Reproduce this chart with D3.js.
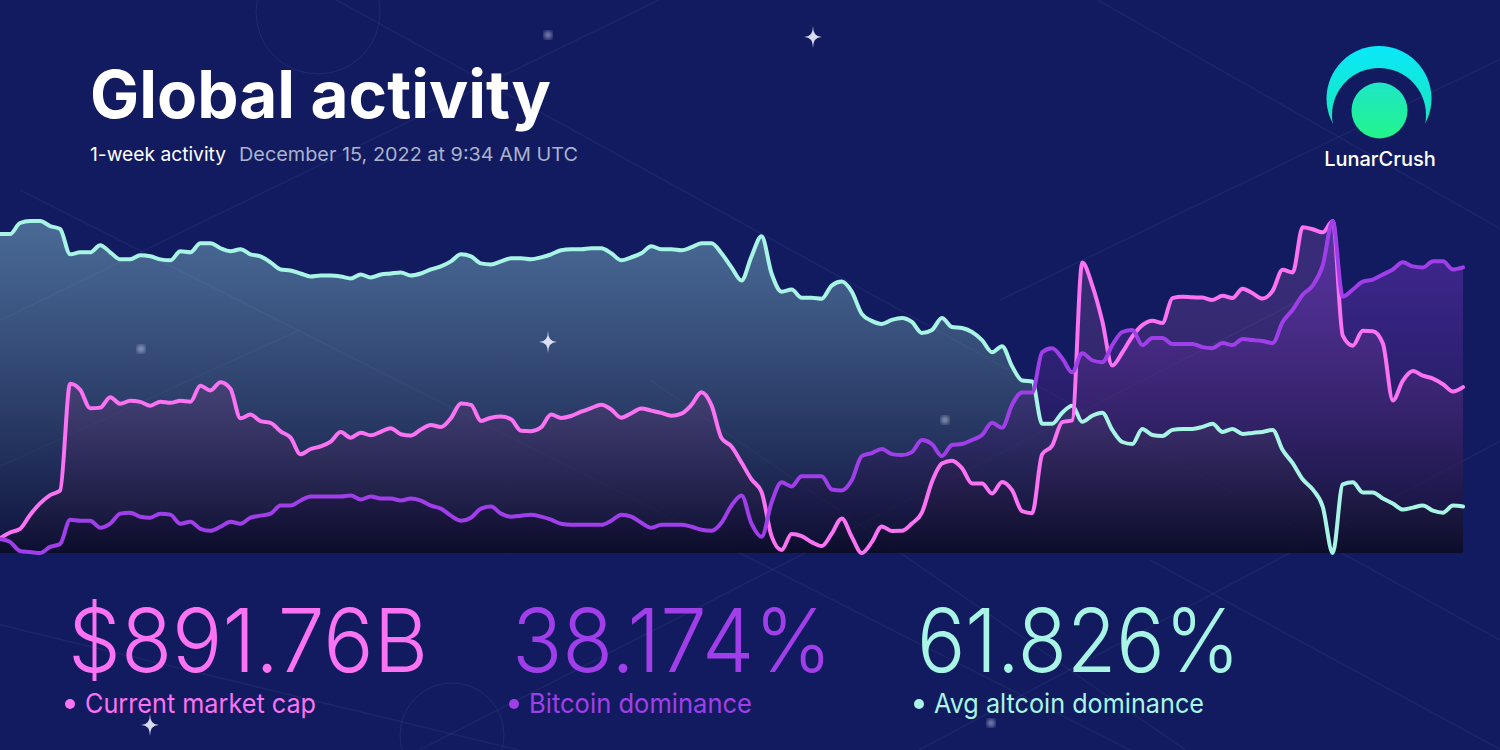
<!DOCTYPE html>
<html>
<head>
<meta charset="utf-8">
<script src="https://cdn.jsdelivr.net/npm/d3@7"></script>
<style>
html, body { margin: 0; padding: 0; background: #121b5f; overflow: hidden; }
svg { display: block; }
</style>
</head>
<body>
<script>
// hourly-ish samples over the week
const marketCap = [
  861.44, 862.60, 863.34, 866.14, 868.44, 870.10, 871.02, 892.44, 891.26, 887.54,
  887.66, 889.76, 888.44, 889.04, 888.82, 888.06, 888.86, 888.64, 889.02, 888.84,
  892.04, 891.10, 892.76, 891.46, 885.52, 886.26, 884.96, 884.62, 882.90, 881.64,
  878.30, 879.36, 879.90, 880.86, 882.76, 881.64, 882.64, 882.10, 882.82, 883.54,
  882.32, 882.06, 883.26, 884.18, 883.78, 885.56, 888.50, 888.20, 885.00, 885.64,
  885.90, 885.34, 883.02, 882.94, 883.72, 886.26, 885.60, 885.98, 886.84, 887.56,
  888.24, 887.28, 885.64, 886.54, 887.50, 887.06, 886.60, 886.04, 886.46, 888.20,
  890.76, 888.16, 881.56, 879.88, 876.64, 873.26, 870.72, 861.88, 859.10, 862.30,
  861.88, 860.68, 859.90, 862.38, 865.44, 861.76, 858.50, 860.68, 863.84, 862.92,
  862.94, 864.40, 866.60, 872.76, 876.44, 877.02, 875.54, 872.44, 872.44, 870.44,
  872.76, 871.10, 866.88, 866.48, 878.30, 880.04, 884.76, 885.10, 916.76, 912.20,
  905.06, 896.10, 898.72, 901.94, 904.20, 905.08, 904.64, 909.64, 909.90, 909.80,
  909.74, 909.24, 910.10, 909.64, 911.50, 910.60, 909.54, 911.10, 915.30, 914.76,
  923.86, 923.44, 922.82, 925.10, 902.10, 900.10, 903.06, 903.00, 900.56, 889.10,
  893.10, 895.02, 894.06, 893.48, 892.36, 890.88, 891.76
];

const btcDominance = [
  37.905, 37.902, 37.893, 37.892, 37.891, 37.897, 37.900, 37.924, 37.923, 37.923,
  37.916, 37.920, 37.930, 37.931, 37.927, 37.926, 37.930, 37.929, 37.920, 37.922,
  37.915, 37.913, 37.917, 37.922, 37.920, 37.926, 37.928, 37.930, 37.938, 37.938,
  37.943, 37.947, 37.947, 37.947, 37.947, 37.948, 37.944, 37.947, 37.945, 37.945,
  37.943, 37.945, 37.943, 37.938, 37.935, 37.928, 37.923, 37.926, 37.935, 37.937,
  37.930, 37.927, 37.928, 37.929, 37.927, 37.924, 37.920, 37.919, 37.919, 37.919,
  37.919, 37.923, 37.929, 37.927, 37.921, 37.916, 37.919, 37.919, 37.919, 37.917,
  37.914, 37.913, 37.921, 37.938, 37.948, 37.920, 37.907, 37.941, 37.961, 37.957,
  37.967, 37.967, 37.967, 37.954, 37.953, 37.963, 37.987, 37.990, 37.994, 37.989,
  37.988, 37.991, 38.003, 37.999, 37.987, 37.998, 37.999, 38.003, 38.008, 38.020,
  38.015, 38.038, 38.050, 38.050, 38.090, 38.094, 38.084, 38.070, 38.089, 38.082,
  38.080, 38.097, 38.110, 38.112, 38.097, 38.104, 38.104, 38.098, 38.098, 38.098,
  38.095, 38.094, 38.099, 38.097, 38.103, 38.102, 38.101, 38.099, 38.120, 38.132,
  38.147, 38.156, 38.176, 38.220, 38.145, 38.152, 38.160, 38.162, 38.167, 38.172,
  38.179, 38.175, 38.174, 38.180, 38.180, 38.172, 38.174
];

const altDominance = [
  62.096, 62.096, 62.107, 62.109, 62.109, 62.104, 62.101, 62.076, 62.078, 62.078,
  62.085, 62.078, 62.071, 62.071, 62.075, 62.074, 62.071, 62.070, 62.079, 62.078,
  62.087, 62.087, 62.082, 62.079, 62.081, 62.076, 62.074, 62.068, 62.061, 62.060,
  62.057, 62.054, 62.055, 62.055, 62.054, 62.052, 62.056, 62.053, 62.056, 62.057,
  62.058, 62.055, 62.057, 62.061, 62.064, 62.069, 62.076, 62.074, 62.067, 62.066,
  62.069, 62.072, 62.072, 62.071, 62.073, 62.076, 62.080, 62.081, 62.081, 62.082,
  62.082, 62.077, 62.070, 62.073, 62.077, 62.084, 62.081, 62.081, 62.080, 62.083,
  62.087, 62.087, 62.077, 62.063, 62.050, 62.074, 62.094, 62.057, 62.039, 62.041,
  62.033, 62.033, 62.032, 62.045, 62.049, 62.039, 62.017, 62.010, 62.007, 62.011,
  62.013, 62.009, 61.998, 62.001, 62.013, 62.004, 62.003, 61.999, 61.991, 61.979,
  61.985, 61.965, 61.951, 61.950, 61.908, 61.908, 61.919, 61.926, 61.910, 61.916,
  61.919, 61.902, 61.890, 61.888, 61.903, 61.897, 61.896, 61.902, 61.903, 61.903,
  61.905, 61.908, 61.900, 61.903, 61.898, 61.899, 61.900, 61.902, 61.882, 61.869,
  61.853, 61.843, 61.826, 61.780, 61.848, 61.850, 61.840, 61.840, 61.834, 61.829,
  61.823, 61.825, 61.827, 61.822, 61.820, 61.827, 61.826
];

const statValues = ["$891.76B", "38.174%", "61.826%"];
const statLabels = ["Current market cap", "Bitcoin dominance", "Avg altcoin dominance"];

var W = 1500, H = 750;
var chartTop = 221, chartBottom = 553;

var svg = d3.select("body").append("svg")
  .attr("width", W)
  .attr("height", H);

var defs = svg.append("defs");

svg.append("rect").attr("width", W).attr("height", H).attr("fill", "#121b5f");

// faint constellation lines in the background
var bgLines = [
  [-40, 340, 700, -20], [20, 190, 1150, 760], [300, -20, 1500, 640],
  [900, 760, 1540, 420], [1000, 300, 1540, 40], [1080, -10, 1520, 240],
  [400, 760, 1300, 300], [-20, 620, 560, 760], [650, 380, 1200, 760],
  [1150, 560, 1520, 760], [-30, 480, 300, 330]
];
svg.append("g").selectAll("line")
  .data(bgLines)
  .enter()
  .append("line")
  .attr("x1", d => d[0]).attr("y1", d => d[1])
  .attr("x2", d => d[2]).attr("y2", d => d[3])
  .attr("stroke", "#8fa8d8")
  .attr("stroke-opacity", 0.08)
  .attr("stroke-width", 1.5);

svg.append("circle").attr("cx", 318).attr("cy", 12).attr("r", 62)
  .attr("fill", "none").attr("stroke", "#8fa8d8").attr("stroke-opacity", 0.1);
svg.append("circle").attr("cx", 452).attr("cy", 735).attr("r", 52)
  .attr("fill", "none").attr("stroke", "#8fa8d8").attr("stroke-opacity", 0.1);

// chart
var x = d3.scaleLinear().domain([0, marketCap.length - 1]).range([0, 1463]);

var series = [
  {name: "alt", values: altDominance, line: "#a8f5e6", top: "#8cc8d8", topOp: 0.46, botOp: 0.55},
  {name: "cap", values: marketCap, line: "#fb72f2", top: "#d070e0", topOp: 0.2, botOp: 0.45},
  {name: "btc", values: btcDominance, line: "#a03fea", top: "#8a3ee0", topOp: 0.4, botOp: 0.45}
];

series.forEach(function(s) {
  s.y = d3.scaleLinear().domain(d3.extent(s.values)).range([chartBottom, chartTop]);
  var g = defs.append("linearGradient")
    .attr("id", "grad-" + s.name)
    .attr("gradientUnits", "userSpaceOnUse")
    .attr("x1", 0).attr("y1", chartTop).attr("x2", 0).attr("y2", chartBottom);
  g.append("stop").attr("offset", "0%").attr("stop-color", s.top).attr("stop-opacity", s.topOp);
  g.append("stop").attr("offset", "100%").attr("stop-color", "#0a0b22").attr("stop-opacity", s.botOp);
});

var chart = svg.append("g");

series.forEach(function(s) {
  var area = d3.area()
    .x((d, i) => x(i))
    .y0(chartBottom)
    .y1(d => s.y(d))
    .curve(d3.curveMonotoneX);
  chart.append("path")
    .datum(s.values)
    .attr("d", area)
    .attr("fill", "url(#grad-" + s.name + ")");
});

series.forEach(function(s) {
  var line = d3.line()
    .x((d, i) => x(i))
    .y(d => s.y(d))
    .curve(d3.curveMonotoneX);
  chart.append("path")
    .datum(s.values)
    .attr("d", line)
    .attr("fill", "none")
    .attr("stroke", s.line)
    .attr("stroke-width", 4)
    .attr("stroke-linejoin", "round")
    .attr("stroke-linecap", "round");
});

// little stars
function sparkle(cx, cy, r) {
  return "M" + cx + "," + (cy - r) + " Q" + cx + "," + cy + " " + (cx + r * 0.8) + "," + cy +
    " Q" + cx + "," + cy + " " + cx + "," + (cy + r) +
    " Q" + cx + "," + cy + " " + (cx - r * 0.8) + "," + cy +
    " Q" + cx + "," + cy + " " + cx + "," + (cy - r) + "Z";
}
var sparkles = [[813, 37, 11], [548, 342, 11], [150, 725, 11]];
svg.append("g").selectAll("path")
  .data(sparkles)
  .enter()
  .append("path")
  .attr("d", d => sparkle(d[0], d[1], d[2]))
  .attr("fill", "#eef0ff")
  .attr("opacity", 0.9);

defs.append("filter").attr("id", "blur").append("feGaussianBlur").attr("stdDeviation", 2);
var glows = [[548, 35], [141, 349], [945, 420], [991, 723]];
svg.append("g").selectAll("circle")
  .data(glows)
  .enter()
  .append("circle")
  .attr("cx", d => d[0]).attr("cy", d => d[1]).attr("r", 4)
  .attr("fill", "#c8cce8").attr("opacity", 0.6)
  .attr("filter", "url(#blur)");

// title
svg.append("text")
  .attr("x", 90).attr("y", 118)
  .attr("font-family", "Inter, 'Liberation Sans', sans-serif")
  .attr("font-weight", 700)
  .attr("font-size", 66)
  .attr("fill", "#ffffff")
  .attr("textLength", 461)
  .attr("lengthAdjust", "spacingAndGlyphs")
  .text("Global activity");

svg.append("text")
  .attr("x", 90).attr("y", 161)
  .attr("font-family", "Inter, 'Liberation Sans', sans-serif")
  .attr("font-size", 19)
  .attr("fill", "#ffffff")
  .attr("textLength", 136)
  .attr("lengthAdjust", "spacingAndGlyphs")
  .text("1-week activity");

svg.append("text")
  .attr("x", 239).attr("y", 161)
  .attr("font-family", "Inter, 'Liberation Sans', sans-serif")
  .attr("font-size", 19)
  .attr("fill", "#aab2cc")
  .attr("textLength", 339)
  .attr("lengthAdjust", "spacingAndGlyphs")
  .text("December 15, 2022 at 9:34 AM UTC");

// logo
var ring = defs.append("linearGradient").attr("id", "ring")
  .attr("x1", 0).attr("y1", 0).attr("x2", 0).attr("y2", 1);
ring.append("stop").attr("offset", "0%").attr("stop-color", "#08e8ff");
ring.append("stop").attr("offset", "100%").attr("stop-color", "#1de7b0");
var moon = defs.append("linearGradient").attr("id", "moon")
  .attr("x1", 0).attr("y1", 0).attr("x2", 0).attr("y2", 1);
moon.append("stop").attr("offset", "0%").attr("stop-color", "#1ee6c6");
moon.append("stop").attr("offset", "100%").attr("stop-color", "#22f58a");

var mask = defs.append("mask").attr("id", "crescent");
mask.append("rect").attr("width", W).attr("height", H).attr("fill", "black");
mask.append("circle").attr("cx", 1379).attr("cy", 98.5).attr("r", 52.5).attr("fill", "white");
mask.append("circle").attr("cx", 1379).attr("cy", 115).attr("r", 47).attr("fill", "black");

svg.append("rect")
  .attr("x", 1320).attr("y", 40).attr("width", 120).attr("height", 100)
  .attr("fill", "url(#ring)")
  .attr("mask", "url(#crescent)");
svg.append("circle")
  .attr("cx", 1379.5).attr("cy", 110.5).attr("r", 28)
  .attr("fill", "url(#moon)");
svg.append("text")
  .attr("x", 1380).attr("y", 166)
  .attr("text-anchor", "middle")
  .attr("font-family", "Inter, 'Liberation Sans', sans-serif")
  .attr("font-weight", 500)
  .attr("font-size", 20)
  .attr("fill", "#ffffff")
  .text("LunarCrush");

// stats at the bottom
var statX = [68, 512, 917];
var statW = [360, 320, 323];
var statLabelW = [231, 223, 270];
var statColors = [series[1].line, series[2].line, series[0].line];

var stats = svg.append("g").selectAll("g")
  .data(statValues)
  .enter()
  .append("g");

stats.append("text")
  .attr("x", (d, i) => statX[i])
  .attr("y", 672)
  .attr("font-family", "Inter, 'Liberation Sans', sans-serif")
  .attr("font-weight", 300)
  .attr("font-size", 88)
  .attr("fill", (d, i) => statColors[i])
  .attr("textLength", (d, i) => statW[i])
  .attr("lengthAdjust", "spacingAndGlyphs")
  .text(d => d);

stats.append("circle")
  .attr("cx", (d, i) => statX[i] + 2)
  .attr("cy", 704)
  .attr("r", 5)
  .attr("fill", (d, i) => statColors[i]);

stats.append("text")
  .attr("x", (d, i) => statX[i] + 17)
  .attr("y", 713)
  .attr("font-family", "Inter, 'Liberation Sans', sans-serif")
  .attr("font-size", 27)
  .attr("fill", (d, i) => statColors[i])
  .attr("textLength", (d, i) => statLabelW[i])
  .attr("lengthAdjust", "spacingAndGlyphs")
  .text((d, i) => statLabels[i]);
</script>
</body>
</html>
